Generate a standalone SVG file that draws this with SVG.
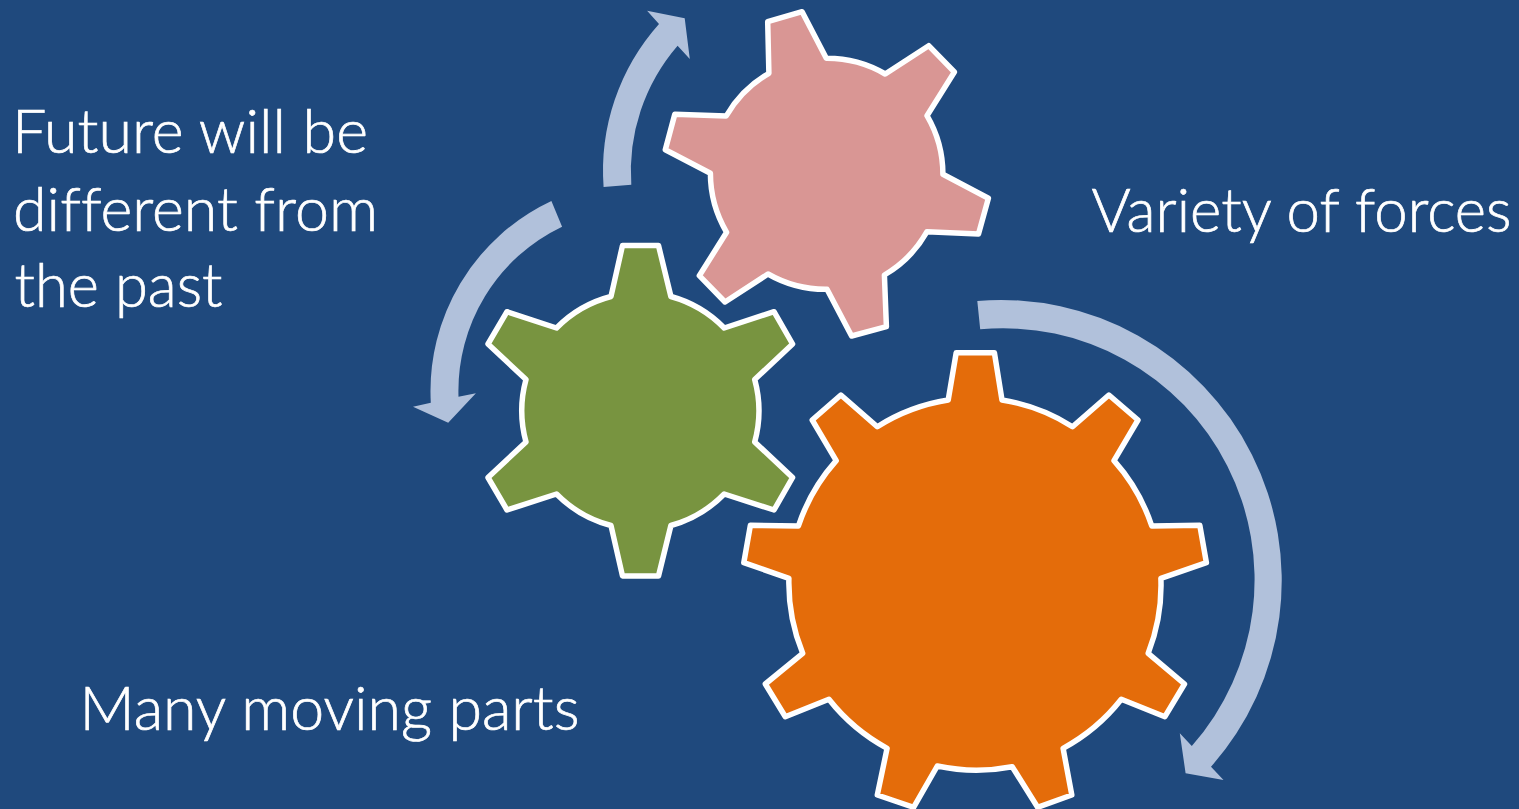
<svg xmlns="http://www.w3.org/2000/svg" width="1519" height="809" viewBox="0 0 1519 809">
<style>
.gear{stroke:#fff;stroke-width:5.5;stroke-linejoin:round}
.arrow{fill:#B1C1DB}
text{fill:#fff;stroke:#fff;stroke-width:.7;font-family:"Lato","Open Sans",sans-serif;font-weight:300;font-size:61px;font-variant-ligatures:none}
</style>
<rect width="1519" height="809" fill="#1F497D"/>
<g id="connectors">
<path class="arrow" d="M977.3,301A280.5,280.5 0 0 1 1211,766.7L1223.5,780L1185.6,773.3L1179.8,733.3L1191.8,746A251.5,251.5 0 0 0 980.2,329.3Z"/>
<path class="arrow" d="M603.6,187A220.5,220.5 0 0 1 659,24L647.1,10.7L684.7,18.3L689.8,59L677.6,45.7A192.4,192.4 0 0 0 631.3,184.7Z"/>
<path class="arrow" d="M551.4,201A210,210 0 0 0 430.8,402.7L413,406.7L448.2,422.7L475.9,393.3L458.5,396.7A182,182 0 0 1 562.1,226.7Z"/>
</g>
<g id="gear-orange">
<path class="gear" fill="#E46C0A" d="M956.2,352.7L994.4,352.7L1002,400A186.5,186.5 0 0 1 1072.5,426.7L1108.9,395L1138,420L1114,460.7A186.5,186.5 0 0 1 1151.8,526L1199.8,525.3L1206.4,562.7L1160.9,578.3A186.5,186.5 0 0 1 1148.2,653.3L1184.5,684L1164.9,716.7L1121.3,699.3A186.5,186.5 0 0 1 1063.1,748.3L1071.8,795L1037.6,807.3L1012.2,766.7A186.5,186.5 0 0 1 937.3,766L913.6,807.3L877.3,795L887.1,748.3A186.5,186.5 0 0 1 828.9,699.3L785.3,716.7L765.3,684L802.7,653.3A186.5,186.5 0 0 1 788.9,578.3L743.8,562.7L750.4,525.3L798.4,526A186.5,186.5 0 0 1 836.2,460.7L812.2,420L840.9,395L877.3,426.7A186.5,186.5 0 0 1 948.2,400Z"/>
</g>
<g id="gear-green">
<path class="gear" fill="#789440" d="M622.5,245.5L658.5,245.5L670.9,296.5A118,118 0 0 1 724.2,328L774,311.7L792.6,344L754.7,379.5A118,118 0 0 1 754.7,442L792.6,477.5L774,510L724.2,494A118,118 0 0 1 670.9,525.5L658.5,576L622.5,576L611,525.5A118,118 0 0 1 556.5,494L507,510L488,477.5L526,442A118,118 0 0 1 526,379.5L488,344L507,311.7L556.5,328A118,118 0 0 1 611,296.5Z"/>
</g>
<g id="gear-pink">
<path class="gear" fill="#D99694" d="M767.7,21.7L802.1,11.7L826.3,58.3A116,116 0 0 1 885.2,74L928.7,45.7L954.4,72L927,115.7A116,116 0 0 1 942.9,174.3L988.4,198.3L978.5,234L927,231.7A116,116 0 0 1 884.4,275L886.4,326.7L851.6,336L827,289.3A116,116 0 0 1 768,274L725,302L699.3,275.7L726.6,232.3A116,116 0 0 1 710.4,173.3L665.3,149.7L674.8,114.3L726.2,116A116,116 0 0 1 768.9,73.3Z"/>
</g>
<g id="label-future">
<text x="12" y="153" textLength="356" lengthAdjust="spacingAndGlyphs">Future will be</text>
<text x="13" y="231" textLength="365" lengthAdjust="spacingAndGlyphs">different from</text>
<text x="14.5" y="307" textLength="208" lengthAdjust="spacingAndGlyphs">the past</text>
</g>
<g id="label-variety"><text x="1091.5" y="232" textLength="420" lengthAdjust="spacingAndGlyphs">Variety of forces</text></g>
<g id="label-many"><text x="79.5" y="730" textLength="500" lengthAdjust="spacingAndGlyphs">Many moving parts</text></g>
</svg>
